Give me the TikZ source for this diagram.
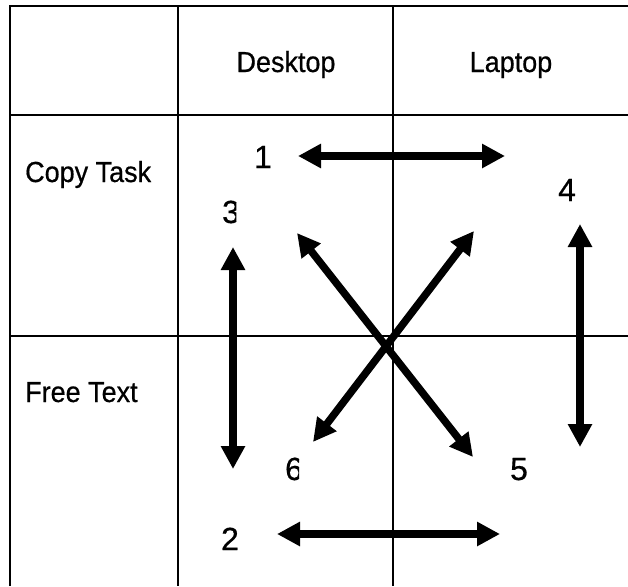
\documentclass[tikz,border=0pt]{standalone}
\usepackage{fontspec}
\setmainfont{Liberation Sans}
\newfontfamily\narrowsans[FakeStretch=0.93,FakeBold=0.6]{Liberation Sans}
\newfontfamily\digitsans[FakeBold=0.5]{Liberation Sans}
\usetikzlibrary{arrows.meta}

\begin{document}
\begin{tikzpicture}[
        x=1pt, y=-1pt,
        grid/.style={line width=2pt},
        label/.style={
            inner sep=0pt,
            font=\narrowsans\fontsize{29}{32}\selectfont
        },
        num/.style={
            inner sep=0pt,
            anchor=base,
            font=\digitsans\fontsize{32}{36}\selectfont
        },
        link/.style={
            line width=7.5pt,
            {Triangle[length=23pt,width=23pt]}-{Triangle[length=23pt,width=23pt]}
        }
    ]
        \useasboundingbox (0,0) rectangle (628,586);

        % table lines (open on the right and at the bottom)
        \draw[grid] (10,586) -- (10,6) -- (628,6);
        \draw[grid] (178,6) -- (178,586);
        \draw[grid] (393,6) -- (393,586);
        \draw[grid] (10,115) -- (628,115);
        \draw[grid] (10,336) -- (628,336);

        % headers
        \node[label, anchor=base] (desk) at (286,72) {Desktop};
        \node[label, anchor=base] (lap) at (511,72) {Laptop};
        \node[label, anchor=base west] (copy) at (25,182) {Copy Task};
        \node[label, anchor=base west] (free) at (25,402) {Free Text};

        % numbers
        \node[num] (n1) at (263,168) {1};
        \begin{scope}
            \clip (200,190) rectangle (236.3,230);
            \node[num] (n3) at (231,223) {3};
        \end{scope}
        \node[num] (n4) at (567,201) {4};
        \begin{scope}
            \clip (270,450) rectangle (299,490);
            \node[num] (n6) at (294,480) {6};
        \end{scope}
        \node[num] (n5) at (519,480) {5};
        \node[num] (n2) at (230,550) {2};

        % arrow ends
        \coordinate (a1w) at (298,156);
        \coordinate (a1e) at (505,156);
        \coordinate (a2w) at (277,534);
        \coordinate (a2e) at (500,534);
        \coordinate (a3n) at (233,247);
        \coordinate (a3s) at (233,469);
        \coordinate (a4n) at (580,224);
        \coordinate (a4s) at (580,447);
        \coordinate (a5n) at (297,233);
        \coordinate (a5s) at (473,457);
        \coordinate (a6n) at (474,231);
        \coordinate (a6s) at (313,442);

        \draw[link] (a1w) -- (a1e);
        \draw[link] (a2w) -- (a2e);
        \draw[link] (a3n) -- (a3s);
        \draw[link] (a4n) -- (a4s);
        \draw[link] (a5n) -- (a5s);
        \draw[link] (a6n) -- (a6s);
    \end{tikzpicture}
\end{document}
